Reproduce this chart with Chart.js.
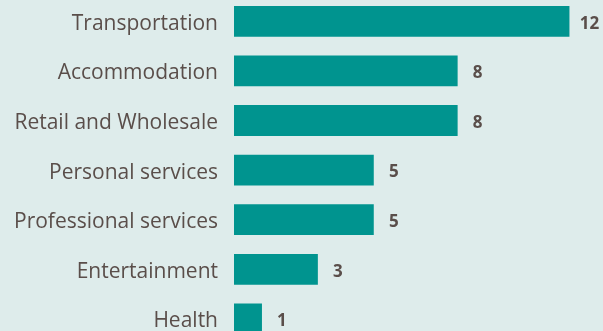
<!DOCTYPE html>
<html>
<head>
<meta charset="utf-8">
<script src="https://cdn.jsdelivr.net/npm/chart.js@4/dist/chart.umd.min.js"></script>
<style>
  html, body { margin: 0; padding: 0; background: #deeceb; overflow: hidden; }
  #wrap { position: absolute; left: 0; top: -4px; width: 603px; height: 352px; }
</style>
</head>
<body>
<div id="wrap"><canvas id="grafica" width="603" height="352"></canvas></div>
<script>
const sectors = ["Transportation", "Accommodation", "Retail and Wholesale", "Personal services",
                 "Professional services", "Entertainment", "Health"];
const counts = [12, 8, 8, 5, 5, 3, 1];

const TEXT = "#5a4e4a";
const BAR = "#00948f";

// number printed just past the end of each bar
const valueLabels = {
    id: "valueLabels",
    afterDatasetsDraw(chart) {
        const ctx = chart.ctx;
        const meta = chart.getDatasetMeta(0);
        const x = chart.scales.x;
        ctx.save();
        ctx.font = "bold 17px 'Open Sans'";
        ctx.fillStyle = TEXT;
        ctx.textAlign = "center";
        ctx.textBaseline = "middle";
        meta.data.forEach((bar, i) => {
            ctx.fillText(String(counts[i]), x.getPixelForValue(counts[i]) + 20, bar.y + 2.5);
        });
        ctx.restore();
    }
};

function dibuixa() {
    const ctx = document.getElementById("grafica").getContext("2d");
    new Chart(ctx, {
        type: "bar",
        data: {
            labels: sectors,
            datasets: [{
                data: counts,
                backgroundColor: BAR,
                borderWidth: 0,
                categoryPercentage: 1,
                barPercentage: 0.62
            }]
        },
        options: {
            indexAxis: "y",
            responsive: false,
            maintainAspectRatio: false,
            animation: false,
            layout: { padding: { top: 0.5, bottom: 4.3, left: 0, right: 5.6 } },
            plugins: {
                legend: { display: false },
                tooltip: { enabled: false }
            },
            scales: {
                x: { display: false, min: 0, max: 13 },
                y: {
                    grid: { display: false, drawTicks: false },
                    border: { display: false },
                    ticks: {
                        padding: 16,
                        labelOffset: 2.5,
                        color: TEXT,
                        font: { family: "'Open Sans'", size: 21 }
                    },
                    // fixed gutter for the labels, and no extra room above/below the bars
                    afterFit(scale) {
                        scale.width = 234;
                        scale.paddingTop = 0;
                        scale.paddingBottom = 0;
                    }
                }
            }
        },
        plugins: [valueLabels]
    });
}

// canvas text needs the fonts ready before the first draw
Promise.all([
    document.fonts.load("21px 'Open Sans'"),
    document.fonts.load("bold 17px 'Open Sans'")
]).then(dibuixa, dibuixa);
</script>
</body>
</html>
